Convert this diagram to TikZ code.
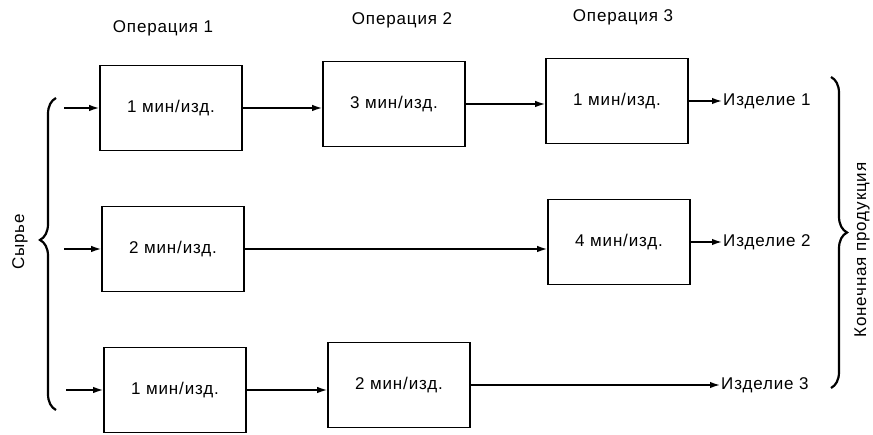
\documentclass[tikz,border=0pt]{standalone}
\usepackage{fontspec}
\setmainfont{Liberation Sans}[LetterSpace=5]
\usetikzlibrary{arrows.meta,decorations.pathreplacing}

\begin{document}
\begin{tikzpicture}[x=1pt,y=-1pt,
  lab/.style={font=\fontsize{17}{19}\selectfont,inner sep=1pt},
  opbox/.style={draw,line width=1.7pt,minimum width=142pt,minimum height=85pt,inner sep=0pt},
  flow/.style={line width=1.5pt,-{Latex[length=10pt,width=6.5pt]}},
  brc/.style={decorate,decoration={brace,amplitude=16pt,aspect=#1},line width=2.2pt}]
  \useasboundingbox (0,0) rectangle (873,435);
  % operation headers
  \node[lab] (op1) at (163,28) {Операция 1};
  \node[lab] (op2) at (402,20) {Операция 2};
  \node[lab] (op3) at (623,17) {Операция 3};
  % operation boxes
  \foreach \n/\x/\y/\t in {a1/171/108/1, a2/394/104/3, a3/617/101/1,
                           b1/173/249/2, b3/619/242/4,
                           c1/175/390/1, c2/399/385/2}
  { \node[lab,opbox] (\n) at (\x,\y) {\t\ мин/изд.}; }
  % products
  \node[lab,anchor=west] (out1) at (722,101) {Изделие 1};
  \node[lab,anchor=west] (out2) at (722,242) {Изделие 2};
  \node[lab,anchor=west] (out3) at (720,385) {Изделие 3};
  % inputs
  \coordinate (in1) at (64,108);
  \coordinate (in2) at (64,249);
  \coordinate (in3) at (66,390);
  \draw[flow] (in1) -- (a1.west);
  \draw[flow] (in2) -- (b1.west);
  \draw[flow] (in3) -- (c1.west);
  % flows
  \draw[flow] (a1.east) -- (a1.east -| a2.west);
  \draw[flow] (a2.east) -- (a2.east -| a3.west);
  \draw[flow] (a3.east) -- (out1.west);
  \draw[flow] (b1.east) -- (b1.east -| b3.west);
  \draw[flow] (b3.east) -- (out2.west);
  \draw[flow] (c1.east) -- (c1.east -| c2.west);
  \draw[flow] (c2.east) -- (out3.west);
  % braces
  \coordinate (rawlo) at (56,410);
  \coordinate (rawhi) at (56,98);
  \coordinate (prodhi) at (831,77);
  \coordinate (prodlo) at (831,388);
  \draw[brc=0.545] (rawlo) -- (rawhi);
  \draw[brc=0.5] (prodhi) -- (prodlo);
  \node[lab,rotate=90] (raw) at (20,242) {Сырье};
  \node[lab,rotate=90] (prod) at (862,250) {Конечная продукция};
\end{tikzpicture}
\end{document}
